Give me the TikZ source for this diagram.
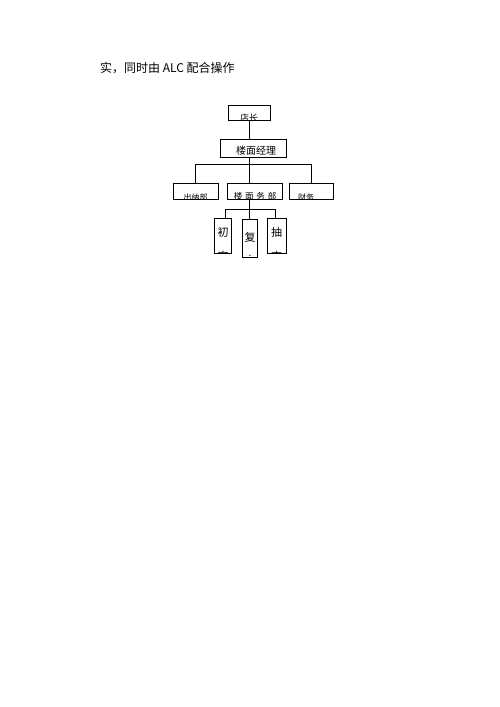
\documentclass[tikz,border=0pt]{standalone}
\usepackage{fontspec}
\newfontfamily\cjk{Noto Sans CJK SC}
\begin{document}
\begin{tikzpicture}[x=1pt,y=-1pt,
  box/.style={draw,line width=0.6pt,inner sep=0,rectangle},
  ln/.style={line width=0.6pt},
  lbl/.style={inner sep=0,font=\cjk\fontsize{9}{9}\selectfont},
  big/.style={inner sep=0,font=\cjk\fontsize{11}{11}\selectfont}]
\useasboundingbox (0,0) rectangle (500,707);
\fill[white] (0,0) rectangle (500,707);
\node[anchor=west,inner sep=0,font=\cjk\fontsize{12}{12}\selectfont] (head) at (100,68) {实，同时由 ALC 配合操作};
% boxes
\node[box,minimum width=42,minimum height=15] (dz) at (249,112.5) {};
\node[box,minimum width=66,minimum height=18] (lm) at (253,148) {};
\node[box,minimum width=45,minimum height=16] (cn) at (195.5,191) {};
\node[box,minimum width=55,minimum height=16] (lmb) at (254.5,191) {};
\node[box,minimum width=44,minimum height=16] (cw) at (311,191) {};
\node[box,minimum width=17,minimum height=35] (cs) at (222.5,235.5) {};
\node[box,minimum width=15,minimum height=38] (fs) at (249.5,238) {};
\node[box,minimum width=19,minimum height=35] (cc) at (276.5,235.5) {};
% texts
\begin{scope}\clip (dz.north west) rectangle (dz.south east);
\node[lbl] (dzt) at (249,118.5) {店长};\end{scope}
\node[lbl,font=\cjk\fontsize{10}{10}\selectfont] (lmt) at (256,150.5) {楼面经理};
\begin{scope}\clip (cn.north west) rectangle (cn.south east);
\node[lbl,font=\cjk\fontsize{8}{8}\selectfont] (cnt) at (195.5,197.5) {出纳部};\end{scope}
\begin{scope}\clip (lmb.north west) rectangle (lmb.south east);
\node[lbl,font=\cjk\fontsize{8.5}{8.5}\selectfont] (lmbt) at (255,196.5) {楼\,\,面\,\,务\,\,部};\end{scope}
\begin{scope}\clip (cw.north west) rectangle (cw.south east);
\node[lbl,font=\cjk\fontsize{8}{8}\selectfont] (cwt) at (306,197.5) {财务};\end{scope}
\node[big] (cst) at (223,232) {初};
\node[big] (fst) at (250,237) {复};
\node[big] (cct) at (276.5,232) {抽};
\begin{scope}\clip (cs.north west) rectangle (cs.south east);
\node[big] (cs2) at (223,256) {审};\end{scope}
\begin{scope}\clip (fs.north west) rectangle ([yshift=2]fs.south east);
\node[big] (fs2) at (250,260.5) {审};\end{scope}
\begin{scope}\clip (cc.north west) rectangle (cc.south east);
\node[big] (cc2) at (276.5,256) {查};\end{scope}
% connectors
\coordinate (b1) at (249,164);
\coordinate (b2) at (249,209);
\draw[ln] (dz.south -| b1) -- (lm.north -| b1);
\draw[ln] (lm.south -| b1) -- (b1);
\draw[ln] (b1) -| (cn.north);
\draw[ln] (b1) -| (cw.north);
\draw[ln] (b1) -- (lmb.north -| b1);
\draw[ln] (lmb.south -| b2) -- (b2);
\draw[ln] (b2) -| ([xshift=2.5]cs.north);
\draw[ln] (b2) -| ([xshift=-1.5]cc.north);
\draw[ln] (b2) -- (fs.north -| b2);
\end{tikzpicture}
\end{document}
